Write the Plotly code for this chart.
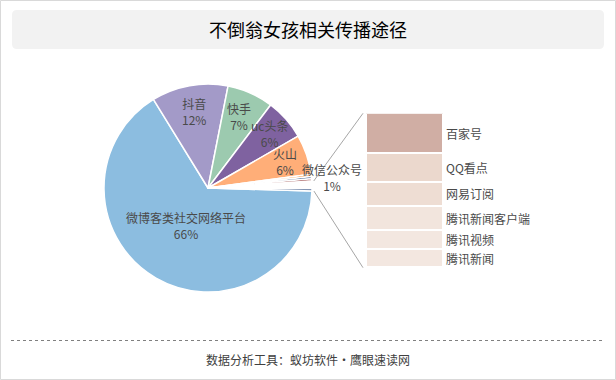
import math
import plotly.graph_objects as go

W, H = 616, 380

# ---------------- data ----------------
pie_labels = ["微博客类社交网络平台", "抖音", "快手", "uc头条", "火山",
              "其他一", "其他二", "其他三", "微信公众号", "其他"]
pie_values = [65.8, 11.9, 7.2, 6.4, 6.2, 0.35, 0.35, 0.35, 1.1, 0.45]
pie_colors = ["#8CBDE0", "#A39AC8", "#9CCAAF", "#7F62A0", "#FFAE78",
              "#F28B30", "#29487A", "#8E3232", "#FFFFFF", "#8496B4"]
pie_show_label = [True, True, True, True, True, False, False, False, True, False]

bar_labels = ["腾讯新闻", "腾讯视频", "腾讯新闻客户端", "网易订阅", "QQ看点", "百家号"]
bar_values = [11.8, 12.3, 15.9, 15.5, 18.8, 25.7]
bar_colors = ["#F3E7E0", "#F3E7E0", "#F2E5DD", "#EEDDD3", "#EBD8CD", "#D0AEA4"]

title_text = "不倒翁女孩相关传播途径"
footer_text = "数据分析工具：蚁坊软件·鹰眼速读网"

# ---------------- geometry ----------------
FONT = "Noto Sans CJK SC"
TXT = "#4A4A4A"
cx, cy, R = 208, 188, 104          # pie centre/radius in px
rotation = 91.7                    # first slice start (deg clockwise from 12 o'clock)
bar_x0, bar_x1, bar_y0, bar_y1 = 366, 443, 113.3, 267.7

def px(x):
    return x / W

def py(y):
    return (H - y) / H

fig = go.Figure()

fig.add_trace(go.Pie(
    labels=pie_labels, values=pie_values, sort=False, direction="clockwise",
    rotation=rotation, textinfo="none", hoverinfo="label+percent",
    marker=dict(colors=pie_colors, line=dict(color="white", width=1.5)),
    domain=dict(x=[px(cx - R), px(cx + R)], y=[py(cy + R), py(cy - R)]),
    showlegend=False,
))

for lab, val, col in zip(bar_labels, bar_values, bar_colors):
    fig.add_trace(go.Bar(
        x=[0], y=[val], width=1, name=lab, marker=dict(color=col, line=dict(color="white", width=2)),
        xaxis="x", yaxis="y", showlegend=False, hoverinfo="name+y",
    ))

bar_total = sum(bar_values)

annotations = []
shapes = []

# pie labels from slice mid-angles
total = sum(pie_values)
radial = {"微博客类社交网络平台": 0.42, "抖音": 0.74, "快手": 0.74, "uc头条": 0.79,
          "火山": 0.78, "微信公众号": 1.19}
yshift = {"微信公众号": 6, "抖音": 1, "快手": 1}
cum = 0
starts = []
for lab, val, show in zip(pie_labels, pie_values, pie_show_label):
    a0 = rotation + 360 * cum / total
    cum += val
    a1 = rotation + 360 * cum / total
    starts.append((a0, a1))
    if show:
        mid = math.radians((a0 + a1) / 2)
        f = radial[lab]
        x = cx + f * R * math.sin(mid)
        y = cy - f * R * math.cos(mid)
        pct = round(val / total * 100)
        annotations.append(dict(
            x=px(x), y=py(y), xref="paper", yref="paper", showarrow=False,
            text=f"{lab}<br>{pct}%", font=dict(family=FONT, size=12, color=TXT),
            xanchor="center", yanchor="middle", yshift=yshift.get(lab, 0),
        ))

# bar labels
c = 0
for lab, val in zip(bar_labels, bar_values):
    annotations.append(dict(
        x=0.5, y=c + val / 2, xref="x", yref="y", showarrow=False, text=lab,
        font=dict(family=FONT, size=12, color=TXT), xanchor="left", xshift=1,
    ))
    c += val

# connector lines: from the edges of the grouped wedge to the bar corners
i_top = pie_labels.index("微信公众号")
i_bot = pie_labels.index("其他")
a_top = math.radians(starts[i_top][0])
a_bot = math.radians(starts[i_bot][1])
for ang, by in ((a_top, bar_y0), (a_bot, bar_y1)):
    sx = cx + R * math.sin(ang) + 2
    sy = cy - R * math.cos(ang)
    shapes.append(dict(type="line", xref="paper", yref="paper",
                       x0=px(sx), y0=py(sy), x1=px(bar_x0 - 3), y1=py(by),
                       line=dict(color="#A6A6A6", width=1)))

# outer frame
shapes.append(dict(type="rect", xref="paper", yref="paper", x0=px(0.5), y0=py(379.5),
                   x1=px(615.5), y1=py(0.5), line=dict(color="#D9D9D9", width=1)))

# title box (rounded)
bx0, bx1, by0, by1, rr = 12, 604, 10, 49, 5
path = (f"M {px(bx0+rr)} {py(by0)} L {px(bx1-rr)} {py(by0)} Q {px(bx1)} {py(by0)} {px(bx1)} {py(by0+rr)} "
        f"L {px(bx1)} {py(by1-rr)} Q {px(bx1)} {py(by1)} {px(bx1-rr)} {py(by1)} "
        f"L {px(bx0+rr)} {py(by1)} Q {px(bx0)} {py(by1)} {px(bx0)} {py(by1-rr)} "
        f"L {px(bx0)} {py(by0+rr)} Q {px(bx0)} {py(by0)} {px(bx0+rr)} {py(by0)} Z")
shapes.append(dict(type="path", xref="paper", yref="paper", path=path,
                   fillcolor="#F2F2F2", line=dict(width=0), layer="below"))

annotations.append(dict(x=0.5, y=py(29.5), xref="paper", yref="paper", showarrow=False,
                        text=title_text, font=dict(family=FONT, size=18, color="#000000"),
                        xanchor="center", yanchor="middle"))

# footer
shapes.append(dict(type="line", xref="paper", yref="paper", x0=px(11), x1=px(604),
                   y0=py(340.5), y1=py(340.5), line=dict(color="#808080", width=1, dash="dot")))
annotations.append(dict(x=0.5, y=py(359), xref="paper", yref="paper", showarrow=False,
                        text=footer_text, font=dict(family=FONT, size=12, color="#404040"),
                        xanchor="center", yanchor="middle"))

fig.update_layout(
    width=W, height=H, autosize=False,
    margin=dict(l=0, r=0, t=0, b=0),
    paper_bgcolor="white", plot_bgcolor="rgba(0,0,0,0)",
    barmode="stack", bargap=0,
    xaxis=dict(domain=[px(bar_x0), px(bar_x1)], range=[-0.5, 0.5], visible=False, fixedrange=True),
    yaxis=dict(domain=[py(bar_y1), py(bar_y0)], range=[0, bar_total], visible=False, fixedrange=True),
    annotations=annotations, shapes=shapes,
    font=dict(family=FONT),
)

fig.write_html("out.html")
